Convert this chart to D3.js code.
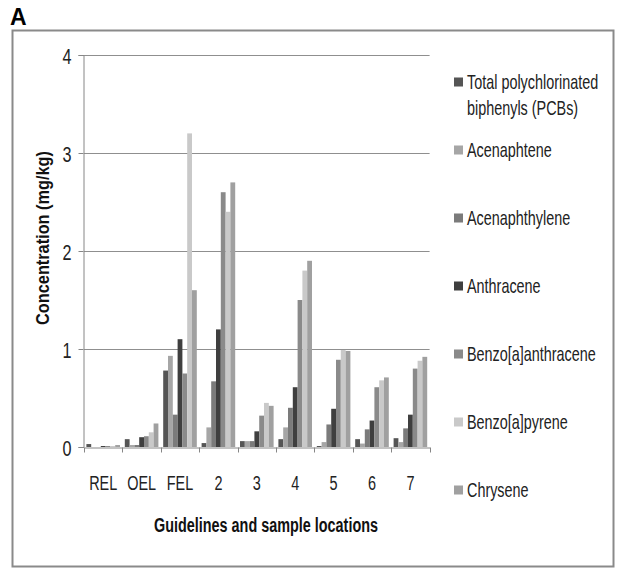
<!DOCTYPE html>
<html>
<head>
<meta charset="utf-8">
<script src="https://cdn.jsdelivr.net/npm/d3@7"></script>
<style>
  html, body { margin: 0; padding: 0; background: #fff; }
  svg { display: block; }
</style>
</head>
<body>
<svg id="chart" width="617" height="569"></svg>
<script>
const categories = ["REL", "OEL", "FEL", "2", "3", "4", "5", "6", "7"];
const seriesNames = [
  "Total polychlorinated biphenyls (PCBs)",
  "Acenaphtene",
  "Acenaphthylene",
  "Anthracene",
  "Benzo[a]anthracene",
  "Benzo[a]pyrene",
  "Chrysene"
];
const pcbs              = [0.03, 0.08, 0.78, 0.04, 0.06, 0.08, 0.01, 0.08, 0.09];
const acenaphtene       = [0.00, 0.02, 0.93, 0.20, 0.06, 0.20, 0.05, 0.035, 0.05];
const acenaphthylene    = [0.00, 0.02, 0.33, 0.67, 0.06, 0.40, 0.23, 0.18, 0.19];
const anthracene        = [0.01, 0.10, 1.10, 1.20, 0.16, 0.61, 0.39, 0.27, 0.33];
const benzoAnthracene   = [0.01, 0.11, 0.75, 2.60, 0.32, 1.50, 0.89, 0.61, 0.80];
const benzoPyrene       = [0.01, 0.15, 3.20, 2.40, 0.45, 1.80, 0.99, 0.68, 0.88];
const chrysene          = [0.02, 0.24, 1.60, 2.70, 0.42, 1.90, 0.98, 0.71, 0.92];
const yTicks = [0, 1, 2, 3, 4];
const colors = ["#555555", "#a6a6a6", "#7b7b7b", "#3f3f3f", "#8a8a8a", "#c9c9c9", "#a0a0a0"];

const seriesValues = [pcbs, acenaphtene, acenaphthylene, anthracene, benzoAnthracene, benzoPyrene, chrysene];

const svg = d3.select("#chart");
const FONT = "'Liberation Sans', Arial, sans-serif";
const axisColor = "#868686";
const SX = 0.85, SY = 1.22;

// outer frame
svg.append("rect").attr("x", 12.5).attr("y", 30.5).attr("width", 601).attr("height", 536)
  .attr("fill", "none").attr("stroke", "#8a8a8a").attr("stroke-width", 2);

// panel letter
svg.append("text").attr("x", 10).attr("y", 25).text("A")
  .attr("font-family", FONT).attr("font-weight", "bold")
  .attr("font-size", 23).attr("fill", "#000");

const x = d3.scaleBand().domain(categories).range([84, 429.6]).paddingInner(0).paddingOuter(0);
const xInner = d3.scaleBand().domain(d3.range(seriesNames.length)).range([0, x.bandwidth()])
  .paddingInner(0).paddingOuter(0.5);
const y = d3.scaleLinear().domain([0, 4]).range([447, 55]);

// gridlines
svg.append("g").selectAll("line").data(yTicks.filter(d => d > 0)).join("line")
  .attr("x1", 84).attr("x2", 429.6)
  .attr("y1", d => Math.round(y(d)) + 0.5).attr("y2", d => Math.round(y(d)) + 0.5)
  .attr("stroke", "#8f8f8f").attr("stroke-width", 1);

// bars
const groups = svg.append("g").selectAll("g").data(seriesValues).join("g")
  .attr("fill", (d, i) => colors[i]);
groups.selectAll("rect").data((vals, si) => vals.map((v, ci) => ({ v, ci, si }))).join("rect")
  .attr("x", d => x(categories[d.ci]) + xInner(d.si))
  .attr("width", xInner.bandwidth())
  .attr("y", d => y(d.v))
  .attr("height", d => y(0) - y(d.v));

// y axis
const yAxis = svg.append("g").attr("transform", "translate(83.5,0)")
  .call(d3.axisLeft(y).tickValues(yTicks).tickSize(5).tickPadding(8).tickFormat(d3.format("d")));
yAxis.select(".domain").attr("stroke", axisColor);
yAxis.selectAll(".tick line").attr("stroke", axisColor);
yAxis.selectAll(".tick text").attr("font-family", FONT).attr("font-size", 18).attr("fill", "#222")
  .attr("x", 0).attr("dy", 0).attr("dominant-baseline", "central")
  .attr("transform", `translate(-12,0) scale(0.9,1.25)`);

// x axis
const xAxis = svg.append("g").attr("transform", "translate(0,447.5)")
  .call(d3.axisBottom(x).tickSize(0).tickPadding(0));
xAxis.select(".domain").attr("stroke", axisColor);
xAxis.selectAll(".tick text").attr("font-family", FONT).attr("font-size", 17).attr("fill", "#222")
  .attr("y", 0).attr("dy", 0).attr("dominant-baseline", "central")
  .attr("transform", `translate(0,36) scale(${SX},${SY})`);
// category boundary ticks
xAxis.append("g").selectAll("line").data(d3.range(categories.length + 1)).join("line")
  .attr("x1", i => Math.round(84 + i * x.step()) + 0.5)
  .attr("x2", i => Math.round(84 + i * x.step()) + 0.5)
  .attr("y1", 0).attr("y2", 5).attr("stroke", axisColor);

// axis titles
svg.append("g").attr("transform", `translate(266,525) scale(0.9,1.22)`)
  .append("text").attr("text-anchor", "middle").attr("dominant-baseline", "central")
  .attr("font-family", FONT).attr("font-weight", "bold").attr("font-size", 16).attr("fill", "#111")
  .text("Guidelines and sample locations");

svg.append("g").attr("transform", "translate(43,238) rotate(-90) scale(1.02,1.18)")
  .append("text").attr("text-anchor", "middle").attr("dominant-baseline", "central")
  .attr("font-family", FONT).attr("font-weight", "bold").attr("font-size", 16).attr("fill", "#111")
  .text("Concentration (mg/kg)");

// legend
const legendY = [82, 150, 218, 286, 354, 422, 490];
const legendLines = [["Total polychlorinated", "biphenyls (PCBs)"], ["Acenaphtene"], ["Acenaphthylene"],
  ["Anthracene"], ["Benzo[a]anthracene"], ["Benzo[a]pyrene"], ["Chrysene"]];
const legend = svg.append("g");
seriesNames.forEach((name, i) => {
  const g = legend.append("g").attr("transform", `translate(454,${legendY[i]})`);
  g.append("rect").attr("x", 0).attr("y", -4.5).attr("width", 9).attr("height", 9).attr("fill", colors[i]);
  legendLines[i].forEach((ln, j) => {
    g.append("g").attr("transform", `translate(13,${j * 26}) scale(0.9,1.25)`)
      .append("text").attr("dominant-baseline", "central")
      .attr("font-family", FONT).attr("font-size", 16).attr("fill", "#222").text(ln);
  });
});
</script>
</body>
</html>
